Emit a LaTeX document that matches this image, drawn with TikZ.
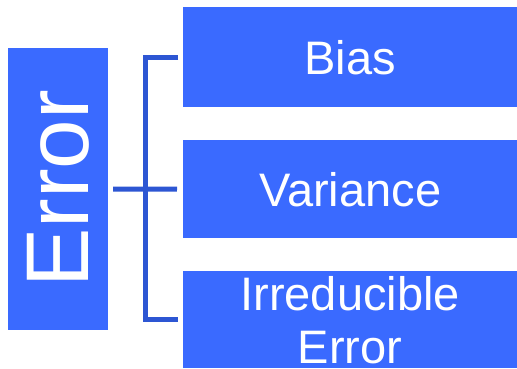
\documentclass[tikz,border=0pt]{standalone}
\usepackage{fontspec}
\setmainfont{Liberation Sans}
\definecolor{boxblue}{HTML}{3A6AFF}
\definecolor{linkblue}{HTML}{2D56D3}
\begin{document}
\begin{tikzpicture}[x=1pt,y=-1pt,
  blockbox/.style={fill=boxblue, draw=none, inner sep=0pt, text=white,
    align=center, font=\fontsize{47}{53}\selectfont},
  bracket/.style={draw=linkblue, line width=5pt, line join=miter}]
\useasboundingbox (0,0) rectangle (517,368);

% the three components on the right
\node[blockbox, minimum width=334pt, minimum height=100pt, anchor=north west] (bias) at (183,7) {Bias};
\node[blockbox, minimum width=334pt, minimum height=98pt, anchor=north west] (var) at (183,140) {Variance};
\node[blockbox, minimum width=334pt, minimum height=97pt, anchor=north west] (irr) at (183,271) {Irreducible\\Error};

% the total error, set vertically
\node[blockbox, rotate=90, minimum width=282pt, minimum height=100pt,
  font=\fontsize{89}{100}\selectfont] (err) at (58,189) {Error};

% bracket joining the total to its parts
\coordinate (spine) at (145.5,0);
\draw[bracket] ([xshift=-5pt]bias.west) -| (spine |- irr.west) -- ([xshift=-5pt]irr.west);
\draw[bracket] ([xshift=5pt]err.south) -- ([xshift=-6pt]var.west);
\end{tikzpicture}
\end{document}
